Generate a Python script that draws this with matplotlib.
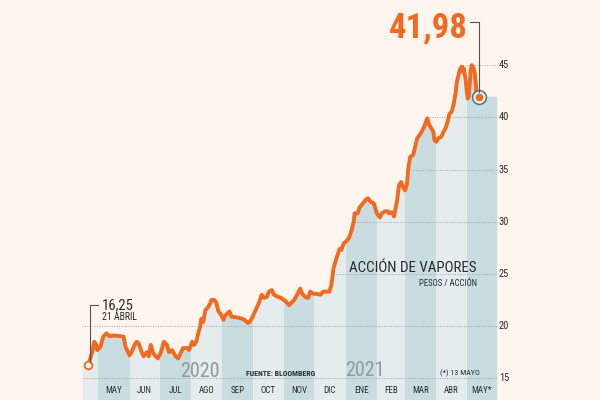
import matplotlib
matplotlib.use("Agg")
import matplotlib.pyplot as plt
import matplotlib.dates as mdates
import matplotlib.font_manager as fm
import matplotlib.transforms as mtransforms
import numpy as np
import datetime as dt

# ---------------- data ----------------
dates = [
    "2020-04-21", "2020-04-25", "2020-04-27", "2020-04-29", "2020-04-30",
    "2020-05-03", "2020-05-06", "2020-05-09", "2020-05-12", "2020-05-17",
    "2020-05-22", "2020-05-26", "2020-05-28",
    "2020-06-01", "2020-06-03", "2020-06-06", "2020-06-08", "2020-06-10",
    "2020-06-13", "2020-06-15", "2020-06-18", "2020-06-20", "2020-06-22",
    "2020-06-24", "2020-06-26", "2020-06-29",
    "2020-07-02", "2020-07-05", "2020-07-08", "2020-07-10", "2020-07-13",
    "2020-07-16", "2020-07-19", "2020-07-22", "2020-07-24", "2020-07-28",
    "2020-07-30",
    "2020-08-02", "2020-08-04", "2020-08-06", "2020-08-08", "2020-08-10",
    "2020-08-11", "2020-08-13", "2020-08-15", "2020-08-18", "2020-08-20",
    "2020-08-21", "2020-08-24", "2020-08-26", "2020-08-28", "2020-08-30",
    "2020-09-02", "2020-09-04", "2020-09-08", "2020-09-10", "2020-09-14",
    "2020-09-19", "2020-09-23", "2020-09-26", "2020-09-28",
    "2020-10-01", "2020-10-04", "2020-10-07", "2020-10-10", "2020-10-12",
    "2020-10-15", "2020-10-17", "2020-10-20", "2020-10-22", "2020-10-26",
    "2020-10-29",
    "2020-11-03", "2020-11-06", "2020-11-08", "2020-11-11", "2020-11-14",
    "2020-11-17", "2020-11-19", "2020-11-22", "2020-11-25", "2020-11-27",
    "2020-11-30",
    "2020-12-03", "2020-12-07", "2020-12-10", "2020-12-13", "2020-12-16",
    "2020-12-18", "2020-12-20", "2020-12-23", "2020-12-26", "2020-12-28",
    "2020-12-30",
    "2021-01-03", "2021-01-05", "2021-01-07", "2021-01-09", "2021-01-10",
    "2021-01-13", "2021-01-15", "2021-01-17", "2021-01-21", "2021-01-23",
    "2021-01-26", "2021-01-29",
    "2021-02-01", "2021-02-04", "2021-02-06", "2021-02-09", "2021-02-12",
    "2021-02-13", "2021-02-16", "2021-02-18", "2021-02-21", "2021-02-23",
    "2021-02-25", "2021-02-27",
    "2021-03-01", "2021-03-03", "2021-03-04", "2021-03-06", "2021-03-09",
    "2021-03-11", "2021-03-13", "2021-03-16", "2021-03-19", "2021-03-21",
    "2021-03-23", "2021-03-25", "2021-03-27", "2021-03-29", "2021-03-30",
    "2021-04-01", "2021-04-03", "2021-04-06", "2021-04-08", "2021-04-10",
    "2021-04-12", "2021-04-14", "2021-04-16", "2021-04-18", "2021-04-20",
    "2021-04-21", "2021-04-24", "2021-04-26", "2021-04-27", "2021-04-28",
    "2021-04-30",
    "2021-05-01", "2021-05-02", "2021-05-03", "2021-05-04", "2021-05-05",
    "2021-05-06", "2021-05-08", "2021-05-09", "2021-05-10", "2021-05-11",
    "2021-05-12", "2021-05-13",
]
prices = [
    16.25, 17.5, 18.5, 18.2, 17.7,
    18.0, 19.0, 19.3, 19.05, 19.1,
    19.05, 19.0, 18.0,
    17.2, 17.5, 18.2, 18.5, 18.35,
    17.5, 17.1, 17.5, 17.1, 18.2,
    17.5, 17.2, 16.9,
    17.5, 18.5, 18.2, 17.5, 17.7,
    17.2, 16.9, 17.5, 17.9, 17.9,
    17.7,
    18.5, 18.2, 18.5, 19.3, 19.95,
    20.7, 20.4, 21.5, 21.85, 22.2,
    22.5, 22.5, 22.2, 21.4, 21.2,
    20.6, 21.05, 21.4, 20.9, 20.85,
    20.75, 20.6, 20.3, 20.4,
    20.9, 21.55, 22.2, 23.0, 22.7,
    22.8, 23.3, 23.45, 23.0, 22.8,
    22.7,
    22.35, 22.0, 22.2, 22.5, 23.0,
    23.6, 23.1, 22.8, 22.7, 23.3,
    23.1,
    23.1, 23.0, 23.3, 23.3, 23.3,
    24.0, 25.5, 26.5, 27.4, 27.3,
    27.9,
    28.25, 28.6, 29.2, 30.0, 30.8,
    30.8, 31.4, 31.6, 32.1, 32.25,
    31.9, 31.75,
    30.8, 30.4, 30.8, 31.0, 31.0,
    30.8, 30.9, 30.5, 32.0, 33.5,
    33.8, 33.3,
    33.0, 33.7, 35.0, 36.2, 36.4,
    37.2, 38.0, 38.4, 38.9, 39.4,
    39.9, 39.25, 38.95, 38.6, 37.8,
    37.65, 38.0, 38.15, 38.6, 38.95,
    39.55, 40.35, 40.5, 41.2, 42.3,
    43.25, 44.5, 44.85, 44.35, 44.7,
    43.6,
    42.6, 41.8, 41.95, 43.25, 44.5,
    45.0, 44.7, 44.2, 43.25, 41.95,
    41.6, 41.98,
]
month_starts = ["2020-05-01", "2020-06-01", "2020-07-01", "2020-08-01",
                "2020-09-01", "2020-10-01", "2020-11-01", "2020-12-01",
                "2021-01-01", "2021-02-01", "2021-03-01", "2021-04-01",
                "2021-05-01"]
month_labels = ["MAY", "JUN", "JUL", "AGO", "SEP", "OCT", "NOV", "DIC",
                "ENE", "FEB", "MAR", "ABR", "MAY*"]
y_ticks = [15, 20, 25, 30, 35, 40, 45]
first_label = "16,25"
first_date_label = "21 ABRIL"
last_label = "41,98"

# ---------------- style ----------------
BG = "#fdf5ee"
LIGHT = "#e5ecee"
DARK = "#c9dde1"
ORANGE = "#f26a1f"
GRID = "#9aa6aa"
TXT = "#2b2b2b"
YEAR = "#8d9ba0"

names = {f.name for f in fm.fontManager.ttflist}
cond_dejavu = any(f.name == "DejaVu Sans" and f.stretch == "condensed"
                  for f in fm.fontManager.ttflist)
if "Liberation Sans Narrow" in names:
    NARROW = dict(family="Liberation Sans Narrow")
elif "Roboto Condensed" in names:
    NARROW = dict(family="Roboto Condensed")
elif cond_dejavu:
    NARROW = dict(family="DejaVu Sans", stretch="condensed")
else:
    NARROW = dict(family="DejaVu Sans")

W, H = 600, 400
fig = plt.figure(figsize=(6, 4), dpi=100, facecolor=BG)
ax = fig.add_axes([0, 0, 1, 1])
ax.set_facecolor(BG)
for s in ax.spines.values():
    s.set_visible(False)
ax.set_xticks([])
ax.set_yticks([])

def dnum(s):
    return mdates.date2num(dt.datetime.strptime(s, "%Y-%m-%d"))

xd = np.array([dnum(s) for s in dates])
yd = np.array(prices, dtype=float)

# axis scaling (layout)
ref0 = dnum("2020-05-01")
px_per_day = 1.0093
ax.set_xlim(ref0 - 98.3 / px_per_day, ref0 + (W - 98.3) / px_per_day)
px_per_unit = 10.44
ax.set_ylim(15 - (H - 378.3) / px_per_unit, 15 + 378.3 / px_per_unit)
ybot = ax.get_ylim()[0] - 1

fill_start = xd[0] - 6
fill_end = dnum("2021-05-31")
x_ext = np.concatenate([[fill_start], xd, [fill_end]])
y_ext = np.concatenate([[yd[0]], yd, [yd[-1]]])

area = ax.fill_between(x_ext, y_ext, ybot, color=LIGHT, lw=0, zorder=1)
clip = area.get_paths()[0]

ms = [dnum(s) for s in month_starts] + [fill_end + 1]
for i in range(len(month_starts)):
    if i % 2 == 0:
        r = ax.axvspan(ms[i], ms[i + 1], color=DARK, lw=0, zorder=1.1)
        r.set_clip_path(clip, ax.transData)

# gridlines
for lv in y_ticks:
    if lv <= 20:
        xs = fill_start
    else:
        xs = xd[np.argmax(yd >= lv - 0.5)]
    ax.hlines(lv, xs, fill_end, colors=GRID, lw=0.7, linestyles=(0, (1, 1.5)),
              zorder=2)
    ax.text((fill_end - ax.get_xlim()[0]) * px_per_day / W + 2.0 / W, lv,
            str(lv), transform=mtransforms.blended_transform_factory(ax.transAxes, ax.transData),
            ha="left", va="center", fontsize=7.5, color=TXT, **NARROW)

# price line
ax.plot(xd, yd, color=ORANGE, lw=2.8, solid_joinstyle="round",
        solid_capstyle="round", zorder=3)

# start marker
ax.plot(xd[0], yd[0], "o", ms=5.5, mfc="#fff4ea", mec=ORANGE, mew=1.3, zorder=4)
# end marker
ax.plot(xd[-1], yd[-1], "o", ms=10, mfc="#e8eef0", mec="#4e7682", mew=1.1, zorder=4)
ax.plot(xd[-1], yd[-1], "o", ms=5.5, mfc=ORANGE, mec="none", zorder=5)

# leader lines (pixel offsets from the data points)
def leader(x, y, offs, **kw):
    px, py = ax.transData.transform((x, y))
    t = mtransforms.Affine2D().translate(px, py)
    ax.plot([o[0] for o in offs], [o[1] for o in offs], transform=t,
            color="#555555", lw=0.8, zorder=4, clip_on=False)

leader(xd[0], yd[0], [(1.7, 3.5), (1.7, 60), (10, 60)])
leader(xd[-1], yd[-1], [(0, 5), (0, 74.3), (-9, 74.3)])

ax.annotate(first_label, xy=(xd[0], yd[0]), xytext=(13.3, 59.8),
            textcoords="offset pixels", ha="left", va="center",
            fontsize=10.5, color=TXT, **NARROW)
ax.annotate(first_date_label, xy=(xd[0], yd[0]), xytext=(13.3, 48.3),
            textcoords="offset pixels", ha="left", va="center",
            fontsize=7, color=TXT, **NARROW)
ax.annotate(last_label, xy=(xd[-1], yd[-1]), xytext=(-11, 68.5),
            textcoords="offset pixels", ha="right", va="center",
            fontsize=25, fontweight="bold", color=ORANGE, **NARROW)

# month labels
bt = mtransforms.blended_transform_factory(ax.transData, ax.transAxes)
for i, lab in enumerate(month_labels):
    xc = (ms[i] + min(ms[i + 1], fill_end)) / 2
    ax.text(xc, 1 - 390.5 / H, lab, transform=bt, ha="center", va="center",
            fontsize=6.5, color=TXT, **NARROW)

def ftext(x, y, s, **kw):
    ax.text(x / W, 1 - y / H, s, transform=ax.transAxes, **kw)

ftext(180, 377, "2020", ha="left", va="baseline", fontsize=14.5, color=YEAR, **NARROW)
ftext(345, 376, "2021", ha="left", va="baseline", fontsize=14.5, color=YEAR, **NARROW)
ftext(281, 376.3, "FUENTE: BLOOMBERG", ha="center", va="baseline", fontsize=5.6,
      fontweight="bold", color=TXT, **NARROW)
ftext(480, 375.5, "(*) 13 MAYO", ha="right", va="baseline", fontsize=5.8,
      color=TXT, **NARROW)
ftext(476.7, 271.7, "ACCIÓN DE VAPORES", ha="right", va="baseline",
      fontsize=10.8, color=TXT, **NARROW)
ftext(477, 285.5, "PESOS / ACCIÓN", ha="right", va="baseline",
      fontsize=6.3, color=TXT, **NARROW)

fig.savefig("out.png", dpi=100, facecolor=BG)
